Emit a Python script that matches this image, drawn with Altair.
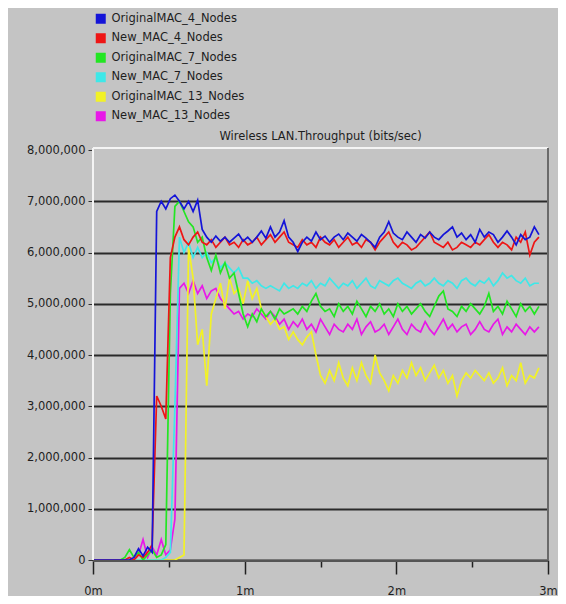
import altair as alt
import pandas as pd

step_min = 0.03  # minutes between collected samples

series_names = ["OriginalMAC_4_Nodes", "New_MAC_4_Nodes", "OriginalMAC_7_Nodes",
                "New_MAC_7_Nodes", "OriginalMAC_13_Nodes", "New_MAC_13_Nodes"]
series_colors = ["#1414d8", "#ee1515", "#22e622", "#3ee8e8", "#f2f226", "#e818e8"]

# throughput values in millions of bits/sec, one sample every 0.03 min
orig_4 = [0, 0, 0, 0, 0, 0, 0, 0, 0,
          0.05, 0.22, 0.08, 0.25, 0.15,
          6.8, 7.0, 6.85, 7.05, 7.12, 7.0, 6.85, 7.0, 6.8, 7.02, 6.45,
          6.3, 6.2, 6.32, 6.22, 6.3, 6.2, 6.28, 6.36, 6.22, 6.3,
          6.2, 6.3, 6.42, 6.28, 6.5, 6.3, 6.4, 6.62, 6.3, 6.2,
          6.02, 6.2, 6.3, 6.22, 6.4, 6.25, 6.32, 6.2, 6.3, 6.36,
          6.25, 6.38, 6.3, 6.22, 6.35, 6.28, 6.2, 6.1, 6.3, 6.4,
          6.6, 6.38, 6.3, 6.25, 6.4, 6.3, 6.2, 6.35, 6.28, 6.4,
          6.3, 6.25, 6.35, 6.42, 6.5, 6.3, 6.38, 6.25, 6.35, 6.2,
          6.45, 6.3, 6.4, 6.35, 6.2, 6.3, 6.42, 6.3, 6.15, 6.35,
          6.25, 6.3, 6.5, 6.35]
new_4 = [0, 0, 0, 0, 0, 0, 0, 0, 0.05, 0.0,
         0.1, 0.05, 0.15, 0.3,
         3.2, 3.0, 2.75, 5.9, 6.3, 6.5, 6.25, 6.15, 6.3, 6.4, 6.2,
         6.15, 6.25, 6.1, 6.2, 6.3, 6.15, 6.2, 6.1, 6.25, 6.15,
         6.2, 6.3, 6.15, 6.25, 6.35, 6.2, 6.3, 6.4, 6.2, 6.15,
         6.1, 6.25, 6.15, 6.2, 6.1, 6.3, 6.2, 6.15, 6.25, 6.1,
         6.2, 6.3, 6.15, 6.2, 6.1, 6.25, 6.2, 6.05, 6.2, 6.3,
         6.4, 6.2, 6.1, 6.2, 6.15, 6.05, 6.1, 6.2, 6.3, 6.4,
         6.2, 6.15, 6.1, 6.2, 6.05, 6.1, 6.2, 6.15, 6.1, 6.2,
         6.15, 6.25, 6.35, 6.2, 6.1, 6.2, 6.15, 6.05, 6.3, 6.2,
         6.4, 5.95, 6.2, 6.3]
orig_7 = [0, 0, 0, 0, 0, 0, 0, 0.05, 0.2, 0.05, 0.15, 0.0, 0.1, 0.2, 0.05, 0.1, 0.3,
          5.2, 6.9, 7.0, 6.8, 6.6, 6.5, 6.2, 6.3,
          5.9, 5.65, 5.95, 5.6, 5.8, 5.5, 5.6, 5.2, 4.8, 4.55,
          4.8, 4.65, 4.9, 4.75, 4.85, 4.7, 4.9, 4.8, 4.85, 4.9,
          4.8, 4.95, 4.85, 5.05, 5.2, 4.95, 4.85, 4.9, 4.75, 5.0,
          4.85, 4.95, 4.8, 5.05, 4.9, 4.75, 4.95, 4.85, 5.0, 4.8,
          4.9, 4.75, 5.0, 4.85, 4.95, 4.8, 4.9, 5.0, 4.85, 4.75,
          4.95, 5.15, 5.25, 4.9, 4.85, 4.75, 4.95, 4.85, 5.0, 4.9,
          4.8, 4.95, 5.2, 4.85, 4.95, 4.8, 5.05, 4.9, 4.75, 5.0,
          4.85, 4.95, 4.8, 4.95]
new_7 = [0, 0, 0, 0, 0, 0, 0, 0, 0, 0, 0, 0, 0, 0, 0, 0, 0.05, 0.15,
         3.0, 6.3, 6.0, 6.2, 5.9, 6.1, 5.9,
         6.0, 5.8, 5.9, 5.7, 5.8, 5.7, 5.6, 5.7, 5.5, 5.5,
         5.4, 5.45, 5.35, 5.3, 5.35, 5.3, 5.25, 5.4, 5.3, 5.35,
         5.3, 5.4, 5.35, 5.45, 5.3, 5.4, 5.35, 5.5, 5.4, 5.3,
         5.4, 5.35, 5.45, 5.3, 5.4, 5.5, 5.35, 5.3, 5.45, 5.4,
         5.35, 5.45, 5.5, 5.4, 5.35, 5.3, 5.4, 5.45, 5.35, 5.4,
         5.5, 5.4, 5.35, 5.45, 5.4, 5.3, 5.45, 5.5, 5.4, 5.35,
         5.45, 5.4, 5.5, 5.35, 5.45, 5.6, 5.5, 5.55, 5.45, 5.4,
         5.5, 5.35, 5.4, 5.4]
orig_13 = [0, 0, 0, 0, 0, 0, 0, 0, 0, 0, 0, 0, 0, 0, 0, 0, 0, 0, 0, 0.05, 0.1,
           6.1, 5.5, 4.2, 4.5,
           3.4, 4.8, 5.1, 5.4, 4.9, 5.5, 5.2, 5.3, 5.0, 5.45,
           5.1, 5.3, 4.9, 4.75, 4.6, 4.7, 4.5, 4.55, 4.3, 4.45,
           4.3, 4.2, 4.35, 4.45, 4.0, 3.6, 3.45, 3.7, 3.5, 3.85,
           3.55, 3.4, 3.75, 3.5, 3.85, 3.6, 3.45, 4.0, 3.65, 3.5,
           3.3, 3.6, 3.45, 3.7, 3.55, 3.85, 3.6, 3.75, 3.5, 3.65,
           3.8, 3.55, 3.7, 3.45, 3.6, 3.2, 3.5, 3.65, 3.55, 3.7,
           3.6, 3.5, 3.65, 3.45, 3.55, 3.75, 3.4, 3.6, 3.5, 3.85,
           3.45, 3.6, 3.55, 3.75]
new_13 = [0, 0, 0, 0, 0, 0, 0, 0, 0, 0,
          0.1, 0.4, 0.05, 0.25, 0.1, 0.4, 0.1,
          0.2, 0.8, 5.3, 5.4, 5.2, 5.45, 5.2, 5.35,
          5.1, 5.25, 5.3, 5.1, 5.0, 4.9, 4.8, 4.85, 4.7, 4.8,
          4.75, 4.9, 4.8, 4.7, 4.85, 4.75, 4.6, 4.7, 4.5, 4.65,
          4.55, 4.7, 4.5, 4.6, 4.45, 4.7, 4.55, 4.4, 4.6, 4.5,
          4.45, 4.6, 4.5, 4.7, 4.4, 4.55, 4.65, 4.45, 4.5, 4.6,
          4.4, 4.55, 4.7, 4.5, 4.4, 4.6, 4.5, 4.45, 4.65, 4.5,
          4.4, 4.55, 4.7, 4.5, 4.6, 4.45, 4.55, 4.6, 4.4, 4.5,
          4.65, 4.5, 4.45, 4.6, 4.7, 4.4, 4.55, 4.45, 4.6, 4.5,
          4.4, 4.55, 4.45, 4.55]

all_values = [orig_4, new_4, orig_7, new_7, orig_13, new_13]

y_ticks = [0, 1000000, 2000000, 3000000, 4000000, 5000000, 6000000, 7000000, 8000000]
x_ticks = [0, 0.5, 1, 1.5, 2, 2.5, 3]
title_text = "Wireless LAN.Throughput (bits/sec)"

rows = []
for name, vals in zip(series_names, all_values):
    for i, v in enumerate(vals):
        rows.append({"series": name, "t": round(i * step_min, 4), "v": v * 1e6})
df = pd.DataFrame(rows)

FONT = "DejaVu Sans"
TXT = "#1e1e1e"
W, H = 455, 410

color_scale = alt.Scale(domain=series_names, range=series_colors)

x_enc = alt.X("t:Q", scale=alt.Scale(domain=[0, 3], nice=False),
              axis=alt.Axis(values=x_ticks, title=None, grid=False, domain=False,
                            labelExpr="datum.value % 1 == 0 ? datum.value + 'm' : ''",
                            labelFlush=False,
                            tickSize={"condition": {"test": "datum.value % 1 == 0", "value": 14}, "value": 7},
                            tickColor="#202020", tickWidth=1.5, labelPadding=11,
                            labelFont=FONT, labelFontSize=11.5, labelColor=TXT))
y_enc = alt.Y("v:Q", scale=alt.Scale(domain=[0, 8000000], nice=False),
              axis=alt.Axis(values=y_ticks, format=",d", title=None, domain=False,
                            tickSize=5, tickColor="#303030", labelPadding=3,
                            grid=True, gridColor="#2a2a2a", gridWidth=2,
                            gridOpacity={"condition": {"test": "datum.value >= 8000000", "value": 0}, "value": 1},
                            labelFont=FONT, labelFontSize=11.5, labelColor=TXT))

legend = alt.Legend(orient="none", legendX=2, legendY=-137, title=None,
                    symbolType="square", symbolSize=100, symbolStrokeWidth=0,
                    symbolOpacity=1, labelFont=FONT, labelFontSize=11.5, labelColor=TXT,
                    labelOffset=5, rowPadding=6.5, padding=0)

color_enc = alt.Color("series:N", scale=color_scale, legend=legend, sort=series_names)

# invisible filled layer so the legend shows filled squares
names_df = pd.DataFrame({"series": series_names})
legend_layer = alt.Chart(names_df).mark_square(filled=True, opacity=0, size=1).encode(
    x=alt.value(0), y=alt.value(0), color=color_enc)

layers = [legend_layer]
for name in reversed(series_names):
    layers.append(
        alt.Chart(df).transform_filter(alt.datum.series == name)
        .mark_line(strokeWidth=1.7, interpolate="linear")
        .encode(x=x_enc, y=y_enc, color=color_enc)
    )

one = pd.DataFrame({"k": [0]})
border_left = alt.Chart(one).mark_rule(color="#f4f4f4", strokeWidth=2).encode(
    x=alt.value(0), y=alt.value(-2), y2=alt.value(H))
border_top = alt.Chart(one).mark_rule(color="#f4f4f4", strokeWidth=2).encode(
    x=alt.value(0), x2=alt.value(W), y=alt.value(-2))
border_right = alt.Chart(one).mark_rule(color="#6a6a6a", strokeWidth=2).encode(
    x=alt.value(W), y=alt.value(-2), y2=alt.value(H + 1))
border_bottom = alt.Chart(one).mark_rule(color="#555555", strokeWidth=2).encode(
    x=alt.value(0), x2=alt.value(W), y=alt.value(H + 1))
title_mark = alt.Chart(pd.DataFrame({"label": [title_text]})).mark_text(
    font=FONT, fontSize=11.5, color=TXT, align="center", baseline="bottom").encode(
    x=alt.value(W / 2), y=alt.value(-8), text="label:N")

chart = alt.layer(*layers, border_left, border_top, border_right, border_bottom, title_mark).properties(
    width=W, height=H,
    autosize=alt.AutoSizeParams(type="none"),
    padding={"left": 85, "top": 142, "right": 10, "bottom": 36},
    background="#c4c4c4",
).configure_view(stroke=None, fill="#c4c4c4")

chart.save("out.html", embed_options={"renderer": "svg", "actions": False})
